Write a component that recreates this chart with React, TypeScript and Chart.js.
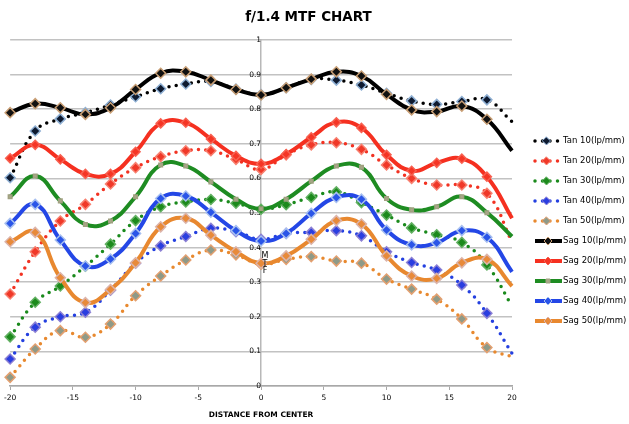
import React, { useEffect, useRef } from 'react';
import { Chart, registerables } from 'chart.js';

Chart.register(...registerables);

const xValues = [-20, -18, -16, -14, -12, -10, -8, -6, -4, -2, 0, 2, 4, 6, 8, 10, 12, 14, 16, 18, 20];

const tan10 = [0.602, 0.737, 0.772, 0.790, 0.812, 0.836, 0.859, 0.873, 0.880, 0.858, 0.842, 0.862, 0.886, 0.884, 0.870, 0.846, 0.824, 0.814, 0.822, 0.827, 0.764];
const tan20 = [0.266, 0.388, 0.477, 0.525, 0.584, 0.631, 0.663, 0.680, 0.680, 0.655, 0.626, 0.668, 0.697, 0.703, 0.684, 0.639, 0.600, 0.581, 0.581, 0.557, 0.417];
const tan30 = [0.142, 0.242, 0.289, 0.346, 0.410, 0.478, 0.518, 0.532, 0.539, 0.528, 0.511, 0.524, 0.545, 0.561, 0.530, 0.494, 0.457, 0.437, 0.415, 0.350, 0.231];
const tan40 = [0.078, 0.170, 0.200, 0.213, 0.277, 0.355, 0.405, 0.432, 0.456, 0.446, 0.424, 0.441, 0.444, 0.449, 0.434, 0.388, 0.357, 0.335, 0.292, 0.210, 0.094];
const tan50 = [0.025, 0.107, 0.160, 0.141, 0.179, 0.261, 0.318, 0.364, 0.393, 0.379, 0.352, 0.366, 0.374, 0.361, 0.355, 0.309, 0.280, 0.251, 0.194, 0.111, 0.085];

const sag10 = [0.790, 0.816, 0.804, 0.785, 0.804, 0.857, 0.904, 0.908, 0.884, 0.857, 0.841, 0.862, 0.887, 0.908, 0.896, 0.843, 0.798, 0.793, 0.809, 0.771, 0.680];
const sag20 = [0.658, 0.697, 0.655, 0.613, 0.613, 0.677, 0.759, 0.761, 0.714, 0.665, 0.642, 0.670, 0.719, 0.762, 0.746, 0.668, 0.622, 0.645, 0.657, 0.605, 0.485];
const sag30 = [0.547, 0.607, 0.535, 0.467, 0.477, 0.547, 0.639, 0.636, 0.590, 0.540, 0.512, 0.540, 0.592, 0.636, 0.632, 0.542, 0.509, 0.518, 0.547, 0.501, 0.432];
const sag40 = [0.470, 0.525, 0.422, 0.347, 0.367, 0.441, 0.542, 0.549, 0.502, 0.449, 0.419, 0.441, 0.499, 0.545, 0.540, 0.451, 0.408, 0.414, 0.449, 0.430, 0.330];
const sag50 = [0.417, 0.444, 0.313, 0.241, 0.279, 0.356, 0.460, 0.485, 0.436, 0.388, 0.355, 0.376, 0.424, 0.478, 0.468, 0.376, 0.318, 0.311, 0.356, 0.366, 0.289];

const tanLabels = ['Tan 10(lp/mm)', 'Tan 20(lp/mm)', 'Tan 30(lp/mm)', 'Tan 40(lp/mm)', 'Tan 50(lp/mm)'];
const sagLabels = ['Sag 10(lp/mm)', 'Sag 20(lp/mm)', 'Sag 30(lp/mm)', 'Sag 40(lp/mm)', 'Sag 50(lp/mm)'];

const chartTitle = 'f/1.4 MTF CHART';
const xTitle = 'DISTANCE FROM CENTER';
const yTitle = 'MTF';

const FONT = '"DejaVu Sans", sans-serif';

export default function App() {
  const ref = useRef<HTMLCanvasElement>(null);

  useEffect(() => {
    document.body.style.margin = '0';
    const toPts = (vals: number[]) => vals.map((y, i) => ({ x: xValues[i], y }));
    const lastIdx = xValues.length - 1;

    const tanStyles = [
      { line: '#000000', fill: '#0e1a30', edge: '#8fb0d4' },
      { line: '#f23222', fill: '#f03828', edge: '#f88070' },
      { line: '#1a8a1c', fill: '#1c8a1c', edge: '#62b062' },
      { line: '#2440e0', fill: '#2a3ee0', edge: '#8c80d4' },
      { line: '#e8892f', fill: '#8e9a88', edge: '#e4a070' },
    ];
    const sagStyles = [
      { line: '#000000', fill: '#111111', edge: '#c89e74', style: 'rectRot', r: 5 },
      { line: '#f53020', fill: '#f53525', edge: '#f86050', style: 'rectRot', r: 4.5 },
      { line: '#1e8c22', fill: '#a8a888', edge: '#a0a080', style: 'rect', r: 2.5 },
      { line: '#2447e6', fill: '#2a55e8', edge: '#a8c0f0', style: 'rectRot', r: 5 },
      { line: '#e8882f', fill: '#e88a3a', edge: '#dcb4aa', style: 'rectRot', r: 5 },
    ];
    const tanData = [tan10, tan20, tan30, tan40, tan50];
    const sagData = [sag10, sag20, sag30, sag40, sag50];

    const datasets: any[] = [];
    tanData.forEach((vals, k) => {
      const s = tanStyles[k];
      datasets.push({
        label: tanLabels[k],
        data: toPts(vals),
        borderColor: s.line,
        borderWidth: 3.5,
        borderDash: [0, 7.5],
        borderCapStyle: 'round',
        tension: 0.45,
        fill: false,
        pointStyle: 'rectRot',
        pointRadius: (c: any) => (c.dataIndex === lastIdx ? 0 : 5),
        pointBackgroundColor: s.fill,
        pointBorderColor: s.edge,
        pointBorderWidth: 1.5,
        order: 1,
        clip: false,
      });
    });
    sagData.forEach((vals, k) => {
      const s = sagStyles[k];
      datasets.push({
        label: sagLabels[k],
        data: toPts(vals),
        borderColor: s.line,
        borderWidth: 4,
        tension: 0.45,
        fill: false,
        pointStyle: s.style,
        pointRadius: (c: any) => (c.dataIndex === lastIdx ? 0 : s.r),
        pointBackgroundColor: s.fill,
        pointBorderColor: s.edge,
        pointBorderWidth: 1.5,
        order: 0,
        clip: false,
      });
    });

    const decor = {
      id: 'decor',
      afterDraw(chart: any) {
        const ctx = chart.ctx;
        ctx.save();
        ctx.fillStyle = '#000';
        ctx.font = `bold 13.5px ${FONT}`;
        ctx.textAlign = 'center';
        ctx.textBaseline = 'middle';
        ctx.fillText(chartTitle, 308.5, 17);
        const xs = chart.scales.x;
        const cx = xs.getPixelForValue(0) + 4;
        ctx.font = `8px ${FONT}`;
        yTitle.split('').forEach((ch, i) => ctx.fillText(ch, cx, 256 + i * 7.5));
        chart.data.datasets.forEach((ds: any, i: number) => {
          const y = 141 + 20 * i;
          const dotted = !!ds.borderDash;
          ctx.save();
          ctx.strokeStyle = ds.borderColor;
          ctx.lineWidth = dotted ? 3.5 : 4;
          ctx.lineCap = dotted ? 'round' : 'butt';
          ctx.setLineDash(dotted ? [0, 7.5] : []);
          ctx.beginPath();
          ctx.moveTo(535, y);
          ctx.lineTo(dotted ? 559 : 562, y);
          ctx.stroke();
          ctx.setLineDash([]);
          const mx = dotted ? 546.5 : 548;
          ctx.fillStyle = ds.pointBackgroundColor;
          ctx.strokeStyle = ds.pointBorderColor;
          ctx.lineWidth = 1;
          ctx.beginPath();
          if (ds.pointStyle === 'rect') {
            ctx.rect(mx - 2, y - 2, 4, 4);
          } else {
            const r = 4;
            ctx.moveTo(mx, y - r);
            ctx.lineTo(mx + r, y);
            ctx.lineTo(mx, y + r);
            ctx.lineTo(mx - r, y);
            ctx.closePath();
          }
          ctx.fill();
          ctx.stroke();
          ctx.restore();
          ctx.fillStyle = '#000';
          ctx.font = `8.5px ${FONT}`;
          ctx.textAlign = 'left';
          ctx.textBaseline = 'middle';
          ctx.fillText(ds.label, 563, y);
        });
        ctx.restore();
      },
    };

    const chart = new Chart(ref.current as HTMLCanvasElement, {
      type: 'line',
      data: { datasets },
      options: {
        animation: false,
        responsive: true,
        maintainAspectRatio: false,
        layout: { padding: { left: 7, right: 117, top: 40, bottom: 0 } },
        plugins: { legend: { display: false }, title: { display: false }, tooltip: { enabled: false } },
        scales: {
          x: {
            type: 'linear',
            min: -20,
            max: 20,
            afterFit: (s: any) => { s.height = 38; },
            ticks: { stepSize: 5, color: '#000', font: { family: FONT, size: 7.5 }, padding: 4, maxRotation: 0 },
            grid: { drawOnChartArea: false, drawTicks: true, tickLength: 4, color: '#a8a8a8', lineWidth: 1 },
            border: { display: true, color: '#a8a8a8', width: 1.5 },
            title: { display: true, text: xTitle, color: '#000', font: { family: FONT, size: 7.5, weight: 'bold' }, padding: { top: 0, bottom: 4.5 } },
          },
          y: {
            type: 'linear',
            position: { x: 0 } as any,
            min: 0,
            max: 1,
            ticks: {
              stepSize: 0.1,
              color: '#000',
              font: { family: FONT, size: 7.5 },
              padding: 9,
              callback: (v: any) => String(Math.round(Number(v) * 10) / 10),
            },
            grid: { drawTicks: false, color: '#c2c2c2', lineWidth: 1.5 },
            border: { display: true, color: '#b8b8b8', width: 1.5 },
          },
        },
      },
      plugins: [decor],
    });
    return () => chart.destroy();
  }, []);

  return (
    <div style={{ position: 'fixed', left: 0, top: 0, width: 629, height: 424, background: '#fff' }}>
      <canvas ref={ref} />
    </div>
  );
}
